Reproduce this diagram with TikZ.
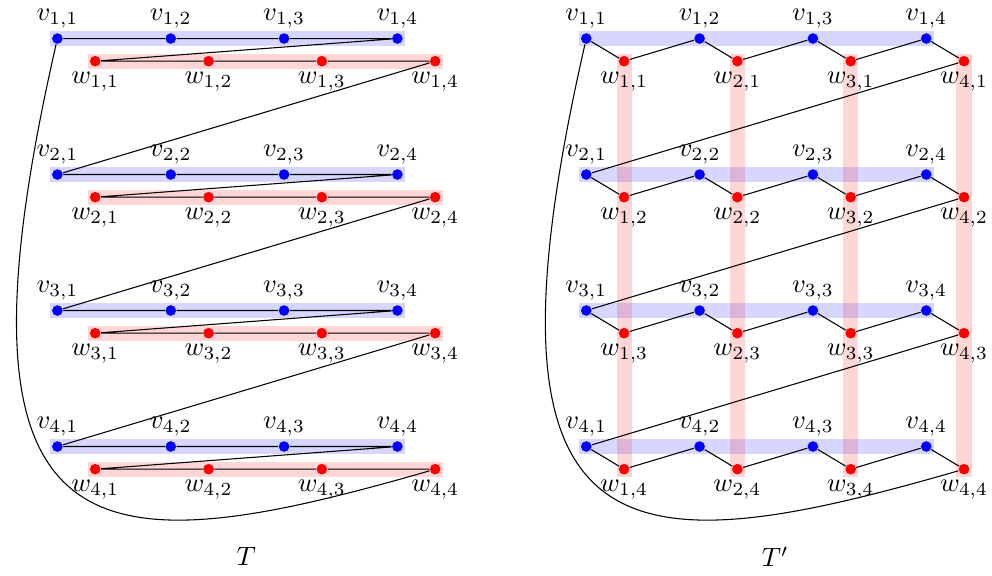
\documentclass[tikz,border=0pt]{standalone}
\usetikzlibrary{calc,backgrounds}

\begin{document}
\begin{tikzpicture}[
  vdot/.style={circle, fill=blue, draw=none, minimum size=4pt, inner sep=0pt},
  wdot/.style={circle, fill=red, draw=none, minimum size=4pt, inner sep=0pt},
  vband/.style={line width=0.2cm, draw=blue, draw opacity=0.16},
  wband/.style={line width=0.2cm, draw=red, draw opacity=0.16},
  every label/.style={inner sep=0pt},
  label distance=1.6pt,
]

\def\dx{1.5}
\def\dy{1.8}
\def\wx{0.5}
\def\wy{0.3}
\def\ext{0.1}

\useasboundingbox (-0.76,0.51) rectangle (12.37,-7.11);

% ---------- T ----------
\begin{scope}[xshift=0cm]
  \foreach \i in {1,...,4} {
    \foreach \j in {1,...,4} {
      \node[vdot, label=above:{$v_{\i,\j}$}] (a-\i-\j) at ({(\j-1)*\dx}, {-(\i-1)*\dy}) {};
      \node[wdot, label=below:{$w_{\i,\j}$}] (b-\i-\j) at ({(\j-1)*\dx+\wx}, {-(\i-1)*\dy-\wy}) {};
    }
  }
  \begin{scope}[on background layer]
    \foreach \i in {1,...,4} {
      \draw[vband] ($(a-\i-1)+(-\ext,0)$) -- ($(a-\i-4)+(\ext,0)$);
      \draw[wband] ($(b-\i-1)+(-\ext,0)$) -- ($(b-\i-4)+(\ext,0)$);
    }
  \end{scope}
  \foreach \i in {1,...,4}
    \draw (a-\i-1) -- (a-\i-2) -- (a-\i-3) -- (a-\i-4) -- (b-\i-1) -- (b-\i-2) -- (b-\i-3) -- (b-\i-4);
  \foreach \i [count=\n from 2] in {1,2,3}
    \draw (b-\i-4) -- (a-\n-1);
  \draw (a-1-1) .. controls +(-1.6,-7) and +(-4.5,-1.3) .. (b-4-4);
  \node (tl) at (2.5,-6.86) {$T$};
\end{scope}

% ---------- T' ----------
\begin{scope}[xshift=7cm]
  \foreach \i in {1,...,4} {
    \foreach \j in {1,...,4} {
      \node[vdot, label=above:{$v_{\i,\j}$}] (c-\i-\j) at ({(\j-1)*\dx}, {-(\i-1)*\dy}) {};
      \node[wdot, label=below:{$w_{\j,\i}$}] (d-\i-\j) at ({(\j-1)*\dx+\wx}, {-(\i-1)*\dy-\wy}) {};
    }
  }
  \begin{scope}[on background layer]
    \foreach \i in {1,...,4}
      \draw[vband] ($(c-\i-1)+(-\ext,0)$) -- ($(c-\i-4)+(\ext,0)$);
    \foreach \j in {1,...,4}
      \draw[wband] ($(d-1-\j)+(0,\ext)$) -- ($(d-4-\j)+(0,-\ext)$);
  \end{scope}
  \foreach \i in {1,...,4}
    \draw (c-\i-1) -- (d-\i-1) -- (c-\i-2) -- (d-\i-2) -- (c-\i-3) -- (d-\i-3) -- (c-\i-4) -- (d-\i-4);
  \foreach \i [count=\n from 2] in {1,2,3}
    \draw (d-\i-4) -- (c-\n-1);
  \draw (c-1-1) .. controls +(-1.6,-7) and +(-4.5,-1.3) .. (d-4-4);
  \node (tr) at (2.5,-6.86) {$T'$};
\end{scope}

\end{tikzpicture}
\end{document}
